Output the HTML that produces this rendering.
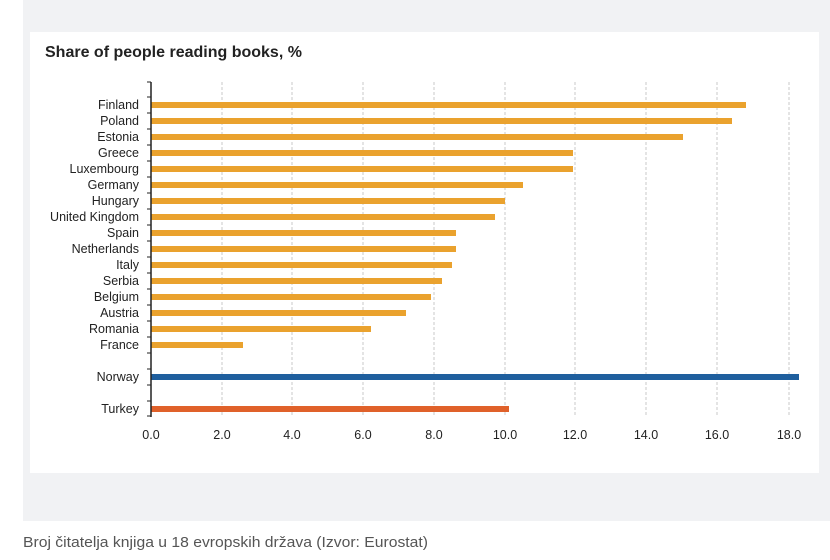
<!DOCTYPE html>
<html><head><meta charset="utf-8"><style>
body{margin:0;background:#fff;width:830px;height:560px;overflow:hidden;font-family:"Liberation Sans",sans-serif}
</style></head><body>
<svg width="830" height="560" xmlns="http://www.w3.org/2000/svg" style="position:absolute;left:0;top:0">
<rect x="23" y="0" width="807" height="521" fill="#f1f2f4"/>
<rect x="30" y="32" width="789" height="441" fill="#fff"/>
<text x="45" y="57" font-size="16" font-weight="bold" fill="#222">Share of people reading books, %</text>
<g stroke="#c8c8c8" stroke-dasharray="3,2" stroke-width="1">
<line x1="222" y1="82" x2="222" y2="416"/><line x1="292" y1="82" x2="292" y2="416"/>
<line x1="363" y1="82" x2="363" y2="416"/><line x1="434" y1="82" x2="434" y2="416"/>
<line x1="505" y1="82" x2="505" y2="416"/><line x1="575" y1="82" x2="575" y2="416"/>
<line x1="646" y1="82" x2="646" y2="416"/><line x1="717" y1="82" x2="717" y2="416"/>
<line x1="789" y1="82" x2="789" y2="416"/>
</g>
<g fill="#eaa22e">
<rect x="151" y="102" width="595" height="6"/>
<rect x="151" y="118" width="581" height="6"/>
<rect x="151" y="134" width="532" height="6"/>
<rect x="151" y="150" width="422" height="6"/>
<rect x="151" y="166" width="422" height="6"/>
<rect x="151" y="182" width="372" height="6"/>
<rect x="151" y="198" width="354" height="6"/>
<rect x="151" y="214" width="344" height="6"/>
<rect x="151" y="230" width="305" height="6"/>
<rect x="151" y="246" width="305" height="6"/>
<rect x="151" y="262" width="301" height="6"/>
<rect x="151" y="278" width="291" height="6"/>
<rect x="151" y="294" width="280" height="6"/>
<rect x="151" y="310" width="255" height="6"/>
<rect x="151" y="326" width="220" height="6"/>
<rect x="151" y="342" width="92" height="6"/>
</g>
<rect x="151" y="374" width="648" height="6" fill="#1f5f9e"/>
<rect x="151" y="406" width="358" height="6" fill="#e0612a"/>
<g stroke="#222" stroke-width="1.5">
<line x1="151" y1="82" x2="151" y2="417"/>
</g>
<g stroke="#222" stroke-width="1">
<line x1="147" y1="82" x2="151" y2="82"/>
<line x1="147" y1="97" x2="151" y2="97"/><line x1="147" y1="113" x2="151" y2="113"/>
<line x1="147" y1="129" x2="151" y2="129"/><line x1="147" y1="145" x2="151" y2="145"/>
<line x1="147" y1="161" x2="151" y2="161"/><line x1="147" y1="177" x2="151" y2="177"/>
<line x1="147" y1="193" x2="151" y2="193"/><line x1="147" y1="209" x2="151" y2="209"/>
<line x1="147" y1="225" x2="151" y2="225"/><line x1="147" y1="241" x2="151" y2="241"/>
<line x1="147" y1="257" x2="151" y2="257"/><line x1="147" y1="273" x2="151" y2="273"/>
<line x1="147" y1="289" x2="151" y2="289"/><line x1="147" y1="305" x2="151" y2="305"/>
<line x1="147" y1="321" x2="151" y2="321"/><line x1="147" y1="337" x2="151" y2="337"/>
<line x1="147" y1="353" x2="151" y2="353"/><line x1="147" y1="369" x2="151" y2="369"/>
<line x1="147" y1="385" x2="151" y2="385"/><line x1="147" y1="401" x2="151" y2="401"/>
<line x1="147" y1="416" x2="151" y2="416"/>
</g>
<g font-size="12.5" fill="#222" text-anchor="end">
<text x="139" y="109">Finland</text><text x="139" y="125">Poland</text>
<text x="139" y="141">Estonia</text><text x="139" y="157">Greece</text>
<text x="139" y="173">Luxembourg</text><text x="139" y="189">Germany</text>
<text x="139" y="205">Hungary</text><text x="139" y="221">United Kingdom</text>
<text x="139" y="237">Spain</text><text x="139" y="253">Netherlands</text>
<text x="139" y="269">Italy</text><text x="139" y="285">Serbia</text>
<text x="139" y="301">Belgium</text><text x="139" y="317">Austria</text>
<text x="139" y="333">Romania</text><text x="139" y="349">France</text>
<text x="139" y="381">Norway</text><text x="139" y="413">Turkey</text>
</g>
<g font-size="12.5" fill="#222" text-anchor="middle">
<text x="151" y="439">0.0</text><text x="222" y="439">2.0</text>
<text x="292" y="439">4.0</text><text x="363" y="439">6.0</text>
<text x="434" y="439">8.0</text><text x="505" y="439">10.0</text>
<text x="575" y="439">12.0</text><text x="646" y="439">14.0</text>
<text x="717" y="439">16.0</text><text x="789" y="439">18.0</text>
</g>
<text x="23" y="547" font-size="15" fill="#555" textLength="405" lengthAdjust="spacingAndGlyphs">Broj čitatelja knjiga u 18 evropskih država (Izvor: Eurostat)</text>
</svg>
</body></html>
